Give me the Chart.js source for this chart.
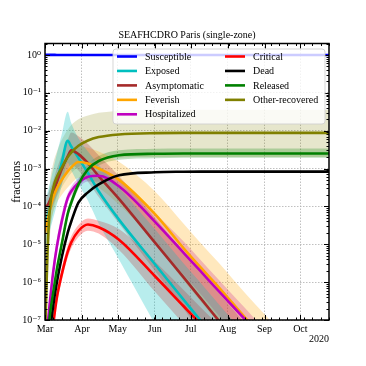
<!DOCTYPE html>
<html>
<head>
<meta charset="utf-8">
<script src="https://cdn.jsdelivr.net/npm/chart.js@4.4.1/dist/chart.umd.min.js"></script>
<style>
  html, body { margin: 0; padding: 0; background: #fff; }
  canvas { display: block; }
</style>
</head>
<body>
<canvas id="chart" width="366" height="366"></canvas>
<script>
// days since 1 March 2020
const days = [0, 2, 4, 7, 10, 14, 19, 22, 28, 36, 45, 62, 92, 116, 130, 146, 168, 184, 214, 238];

const monthDays = [0, 31, 61, 92, 122, 153, 184, 214];
const monthLabels = ['Mar', 'Apr', 'May', 'Jun', 'Jul', 'Aug', 'Sep', 'Oct'];
const decadeValues = [1e-7, 1e-6, 1e-5, 1e-4, 1e-3, 1e-2, 1e-1, 1];
const decadeLabels = ['10⁻⁷', '10⁻⁶', '10⁻⁵', '10⁻⁴', '10⁻³', '10⁻²', '10⁻¹', '10⁰'];

const names = ['Susceptible', 'Exposed', 'Asymptomatic', 'Feverish', 'Hospitalized',
               'Critical', 'Dead', 'Released', 'Other-recovered'];
const colors = ['#0000ff', '#00bfbf', '#a52a2a', '#ffa500', '#bf00bf',
                '#ff0000', '#000000', '#008000', '#808000'];

const susceptible = [1.0, 1.0, 1.0, 0.999, 0.998, 0.996, 0.993, 0.992, 0.991, 0.99, 0.99, 0.99, 0.99, 0.99, 0.99, 0.99, 0.99, 0.99, 0.99, 0.99];

const exposed   = [3.16e-5, 5.25e-5, 9.33e-5, 2.14e-4, 4.79e-4, 1.41e-3, 5.37e-3, 3.80e-3, 1.91e-3, 7.59e-4, 2.51e-4, 4.47e-5, 3.02e-6, 3.47e-7, 1.0e-7, 2.34e-8, 3.24e-9, 7.9e-10, 5e-11, 6e-12];
const exposedHi = [1.26e-4, 2.24e-4, 3.98e-4, 1.0e-3, 2.51e-3, 7.94e-3, 3.16e-2, 1.58e-2, 6.31e-3, 2.82e-3, 1.26e-3, 3.16e-4, 2.51e-5, 3.16e-6, 1.0e-6, 2.51e-7, 3.98e-8, 1.0e-8, 1e-9, 1.58e-10];
const exposedLo = [7.94e-6, 1.26e-5, 2.24e-5, 5.01e-5, 1.12e-4, 3.55e-4, 1.41e-3, 8.91e-4, 3.98e-4, 1.41e-4, 3.55e-5, 3.98e-6, 7.94e-8, 3.98e-9, 1e-9, 1e-10, 1e-10, 1e-10, 1e-10, 1e-10];

const asymptomatic = [1.0e-4, 1.07e-4, 1.41e-4, 2.51e-4, 4.47e-4, 9.55e-4, 2.09e-3, 3.02e-3, 2.40e-3, 1.38e-3, 6.31e-4, 1.58e-4, 1.12e-5, 1.35e-6, 3.89e-7, 9.33e-8, 1.32e-8, 3.16e-9, 2.24e-10, 2.5e-11];
const asymptomaticHi = [1.78e-4, 2.0e-4, 2.82e-4, 5.01e-4, 1.0e-3, 2.24e-3, 5.62e-3, 8.91e-3, 7.08e-3, 4.47e-3, 2.24e-3, 6.31e-4, 5.01e-5, 6.31e-6, 2.0e-6, 5.01e-7, 7.94e-8, 2.0e-8, 1.58e-9, 2.0e-10];
const asymptomaticLo = [5.01e-5, 5.01e-5, 6.31e-5, 1.12e-4, 2.0e-4, 3.98e-4, 8.91e-4, 1.26e-3, 8.91e-4, 4.47e-4, 1.78e-4, 3.55e-5, 2.0e-6, 2.0e-7, 5.01e-8, 1e-8, 1e-9, 2.51e-10, 2e-11, 2.5e-12];

const feverish   = [2.0e-5, 3.98e-5, 7.94e-5, 1.78e-4, 3.02e-4, 5.01e-4, 8.32e-4, 1.07e-3, 1.48e-3, 1.35e-3, 1.0e-3, 5.01e-4, 6.31e-5, 7.94e-6, 2.51e-6, 7.08e-7, 1.12e-7, 3.16e-8, 2.82e-9, 3.98e-10];
const feverishHi = [4.47e-5, 8.91e-5, 1.78e-4, 3.98e-4, 7.08e-4, 1.20e-3, 2.09e-3, 2.69e-3, 3.80e-3, 3.55e-3, 2.82e-3, 1.51e-3, 2.51e-4, 3.55e-5, 1.12e-5, 3.16e-6, 5.01e-7, 1.41e-7, 1.26e-8, 1.78e-9];
const feverishLo = [7.94e-6, 1.58e-5, 3.16e-5, 7.08e-5, 1.26e-4, 2.0e-4, 3.16e-4, 3.98e-4, 5.62e-4, 5.01e-4, 3.16e-4, 1.12e-4, 1.12e-5, 1.12e-6, 3.16e-7, 7.94e-8, 1.12e-8, 3.16e-9, 2.51e-10, 3.16e-11];

const hospitalized   = [1.58e-8, 6.31e-8, 2.82e-7, 2.0e-6, 8.91e-6, 3.98e-5, 1.66e-4, 2.51e-4, 4.17e-4, 6.03e-4, 6.46e-4, 3.39e-4, 3.98e-5, 6.03e-6, 2.0e-6, 5.62e-7, 1.0e-7, 2.82e-8, 2.51e-9, 3.98e-10];
const hospitalizedHi = [2.51e-8, 1.0e-7, 4.47e-7, 3.16e-6, 1.41e-5, 6.31e-5, 2.19e-4, 3.31e-4, 5.50e-4, 7.94e-4, 8.51e-4, 4.79e-4, 6.61e-5, 1.20e-5, 3.98e-6, 1.12e-6, 2.0e-7, 5.62e-8, 5.01e-9, 7.94e-10];
const hospitalizedLo = [1.0e-8, 3.98e-8, 1.78e-7, 1.26e-6, 5.62e-6, 2.51e-5, 1.26e-4, 1.91e-4, 3.16e-4, 4.57e-4, 4.47e-4, 1.58e-4, 1.26e-5, 1.58e-6, 5.01e-7, 1.26e-7, 2.0e-8, 5.01e-9, 3.98e-10, 6.31e-11];

const critical   = [1e-10, 1e-9, 1e-8, 7.94e-8, 3.98e-7, 1.58e-6, 6.31e-6, 1.12e-5, 2.24e-5, 3.31e-5, 2.82e-5, 1.32e-5, 1.45e-6, 2.34e-7, 8.13e-8, 2.51e-8, 5.01e-9, 1.58e-9, 1.58e-10, 2.5e-11];
const criticalHi = [1.58e-10, 1.58e-9, 1.58e-8, 1.26e-7, 6.03e-7, 2.34e-6, 9.12e-6, 1.62e-5, 3.24e-5, 4.79e-5, 4.17e-5, 2.51e-5, 3.55e-6, 6.31e-7, 2.24e-7, 7.08e-8, 1.41e-8, 4.47e-9, 5.01e-10, 7.94e-11];
const criticalLo = [6.31e-11, 6.31e-10, 6.31e-9, 5.01e-8, 2.63e-7, 1.07e-6, 4.37e-6, 7.76e-6, 1.55e-5, 2.29e-5, 1.91e-5, 7.08e-6, 5.62e-7, 7.94e-8, 2.51e-8, 7.94e-9, 1.58e-9, 5.01e-10, 5.01e-11, 7.94e-12];

const dead = [1e-10, 1e-9, 3.16e-8, 2.51e-7, 1.0e-6, 4.47e-6, 2.0e-5, 3.98e-5, 1.26e-4, 2.34e-4, 3.80e-4, 6.61e-4, 7.94e-4, 8.22e-4, 8.3e-4, 8.3e-4, 8.3e-4, 8.3e-4, 8.3e-4, 8.3e-4];

const released   = [1e-9, 2.51e-8, 1.26e-7, 5.62e-7, 2.24e-6, 1.0e-5, 6.31e-5, 1.26e-4, 3.80e-4, 9.55e-4, 1.58e-3, 2.24e-3, 2.45e-3, 2.5e-3, 2.5e-3, 2.5e-3, 2.5e-3, 2.5e-3, 2.5e-3, 2.5e-3];
const releasedHi = [1.35e-9, 3.39e-8, 1.70e-7, 7.59e-7, 3.02e-6, 1.35e-5, 8.51e-5, 1.70e-4, 5.13e-4, 1.29e-3, 2.14e-3, 3.02e-3, 3.31e-3, 3.39e-3, 3.39e-3, 3.39e-3, 3.39e-3, 3.39e-3, 3.39e-3, 3.39e-3];
const releasedLo = [7.59e-10, 1.91e-8, 9.55e-8, 4.27e-7, 1.70e-6, 7.59e-6, 4.79e-5, 9.55e-5, 2.88e-4, 7.24e-4, 1.20e-3, 1.70e-3, 1.86e-3, 1.91e-3, 1.91e-3, 1.91e-3, 1.91e-3, 1.91e-3, 1.91e-3, 1.91e-3];

const otherRecovered   = [3.16e-8, 5.01e-6, 7.94e-5, 3.16e-4, 6.03e-4, 1.05e-3, 2.0e-3, 2.63e-3, 3.98e-3, 5.50e-3, 6.76e-3, 7.94e-3, 8.61e-3, 8.71e-3, 8.71e-3, 8.71e-3, 8.71e-3, 8.71e-3, 8.71e-3, 8.71e-3];
const otherRecoveredHi = [1e-6, 5.01e-5, 3.98e-4, 1.41e-3, 2.82e-3, 5.62e-3, 1.05e-2, 1.41e-2, 2.0e-2, 2.51e-2, 2.95e-2, 3.31e-2, 3.55e-2, 3.55e-2, 3.55e-2, 3.55e-2, 3.55e-2, 3.55e-2, 3.55e-2, 3.55e-2];
const otherRecoveredLo = [3.16e-9, 5.01e-7, 1.26e-5, 7.94e-5, 1.78e-4, 3.16e-4, 5.62e-4, 7.59e-4, 1.10e-3, 1.45e-3, 1.70e-3, 1.91e-3, 2.0e-3, 2.0e-3, 2.0e-3, 2.0e-3, 2.0e-3, 2.0e-3, 2.0e-3, 2.0e-3];

const lines = [susceptible, exposed, asymptomatic, feverish, hospitalized, critical, dead, released, otherRecovered];
// [series index, lower edge, upper edge, opacity]
const bands = [
  [1, exposedLo, exposedHi, 0.28],
  [2, asymptomaticLo, asymptomaticHi, 0.28],
  [3, feverishLo, feverishHi, 0.26],
  [4, hospitalizedLo, hospitalizedHi, 0.28],
  [5, criticalLo, criticalHi, 0.28],
  [7, releasedLo, releasedHi, 0.25],
  [8, otherRecoveredLo, otherRecoveredHi, 0.2]
];

const FONT = "'Liberation Serif', 'DejaVu Serif', serif";
Chart.defaults.font.family = FONT;
Chart.defaults.color = '#000';

function pts(arr) {
  return days.map((d, i) => ({ x: d, y: arr[i] }));
}

function rgba(hex, a) {
  const n = parseInt(hex.slice(1), 16);
  return `rgba(${n >> 16}, ${(n >> 8) & 255}, ${n & 255}, ${a})`;
}

const datasets = [];
lines.forEach((arr, i) => {
  datasets.push({
    label: names[i],
    data: pts(arr),
    borderColor: colors[i],
    borderWidth: 2.6,
    pointRadius: 0,
    fill: false,
    cubicInterpolationMode: 'monotone',
    order: 8 - i
  });
});
bands.forEach(([si, lo, hi, alpha]) => {
  datasets.push({
    label: names[si] + ' lo',
    data: pts(lo),
    borderWidth: 0,
    pointRadius: 0,
    fill: false,
    cubicInterpolationMode: 'monotone',
    order: 20
  });
  datasets.push({
    label: names[si] + ' hi',
    data: pts(hi),
    borderWidth: 0,
    pointRadius: 0,
    fill: '-1',
    backgroundColor: rgba(colors[si], alpha),
    cubicInterpolationMode: 'monotone',
    order: 20
  });
});

// inward ticks on all four sides, black frame, legend box
const frameTicks = {
  id: 'frameTicks',
  afterDatasetsDraw(chart) {
    const { ctx, chartArea: a, scales: { x, y } } = chart;
    ctx.save();
    ctx.strokeStyle = '#000';
    ctx.lineWidth = 1;
    const seg = (x1, y1, x2, y2) => { ctx.beginPath(); ctx.moveTo(x1, y1); ctx.lineTo(x2, y2); ctx.stroke(); };
    for (let d = 0; d <= 238; d += 7) {
      const px = Math.round(x.getPixelForValue(d)) + 0.5;
      seg(px, a.bottom, px, a.bottom - 2.5);
      seg(px, a.top, px, a.top + 2.5);
    }
    monthDays.forEach(d => {
      const px = Math.round(x.getPixelForValue(d)) + 0.5;
      seg(px, a.bottom, px, a.bottom - 5);
      seg(px, a.top, px, a.top + 5);
    });
    for (let k = -7; k <= 0; k++) {
      for (let m = 1; m <= 9; m++) {
        const v = m * Math.pow(10, k);
        if (v > 2) continue;
        const py = Math.round(y.getPixelForValue(v)) + 0.5;
        const len = m === 1 ? 5 : 2.5;
        seg(a.left, py, a.left + len, py);
        seg(a.right, py, a.right - len, py);
      }
    }
    ctx.lineWidth = 1.5;
    ctx.strokeRect(a.left, a.top, a.right - a.left, a.bottom - a.top);
    ctx.restore();
  },
  afterDraw(chart) {
    const { ctx, chartArea: a } = chart;
    const bx = a.left + 68, by = a.top + 5.5, bw = 212, bh = 75;
    ctx.save();
    ctx.beginPath();
    ctx.roundRect(bx, by, bw, bh, 3);
    ctx.fillStyle = 'rgba(255,255,255,0.8)';
    ctx.fill();
    ctx.strokeStyle = 'rgba(204,204,204,0.8)';
    ctx.lineWidth = 1;
    ctx.stroke();
    ctx.font = '10px ' + FONT;
    ctx.textBaseline = 'middle';
    ctx.fillStyle = '#000';
    names.forEach((name, i) => {
      const col = i < 5 ? 0 : 1;
      const row = i < 5 ? i : i - 5;
      const hx = bx + (col === 0 ? 4 : 112);
      const ry = by + 7.5 + row * 14.45;
      ctx.strokeStyle = colors[i];
      ctx.lineWidth = 2.6;
      ctx.beginPath();
      ctx.moveTo(hx, ry);
      ctx.lineTo(hx + 20, ry);
      ctx.stroke();
      ctx.fillText(name, hx + 28, ry + 0.5);
    });
    ctx.restore();
  }
};

new Chart(document.getElementById('chart'), {
  type: 'line',
  data: { datasets },
  plugins: [frameTicks],
  options: {
    responsive: false,
    animation: false,
    devicePixelRatio: 1,
    layout: { padding: { left: 0, right: 37, top: 0, bottom: 0 } },
    plugins: {
      legend: { display: false },
      tooltip: { enabled: false },
      title: {
        display: true,
        text: 'SEAFHCDRO Paris (single-zone)',
        fullSize: false,
        color: '#000',
        font: { size: 10, weight: 'normal', family: FONT },
        padding: { top: 29.5, bottom: 2 }
      }
    },
    scales: {
      x: {
        type: 'linear',
        min: 0,
        max: 238,
        afterBuildTicks: s => { s.ticks = monthDays.map(v => ({ value: v })); },
        afterFit: s => { s.height = 46; },
        ticks: {
          font: { size: 10 },
          padding: 3,
          maxRotation: 0,
          autoSkip: false,
          callback: v => monthLabels[monthDays.indexOf(v)]
        },
        grid: { color: '#b0b0b0', lineWidth: 0.8, drawTicks: false },
        border: { display: false, dash: [1.5, 1.5] },
        title: {
          display: true,
          text: '2020',
          align: 'end',
          font: { size: 10 },
          padding: { top: 0, bottom: 21 }
        }
      },
      y: {
        type: 'logarithmic',
        min: 1e-7,
        max: 2,
        afterBuildTicks: s => { s.ticks = decadeValues.map(v => ({ value: v })); },
        afterFit: s => { s.width = 45; },
        ticks: {
          font: { size: 10 },
          padding: 4,
          autoSkip: false,
          callback: v => decadeLabels[decadeValues.findIndex(d => Math.abs(Math.log10(d) - Math.log10(v)) < 0.01)]
        },
        grid: { color: '#b0b0b0', lineWidth: 0.8, drawTicks: false },
        border: { display: false, dash: [1.5, 1.5] },
        title: {
          display: true,
          text: 'fractions',
          font: { size: 12 },
          padding: { top: 10, bottom: 0 }
        }
      }
    }
  }
});
</script>
</body>
</html>
